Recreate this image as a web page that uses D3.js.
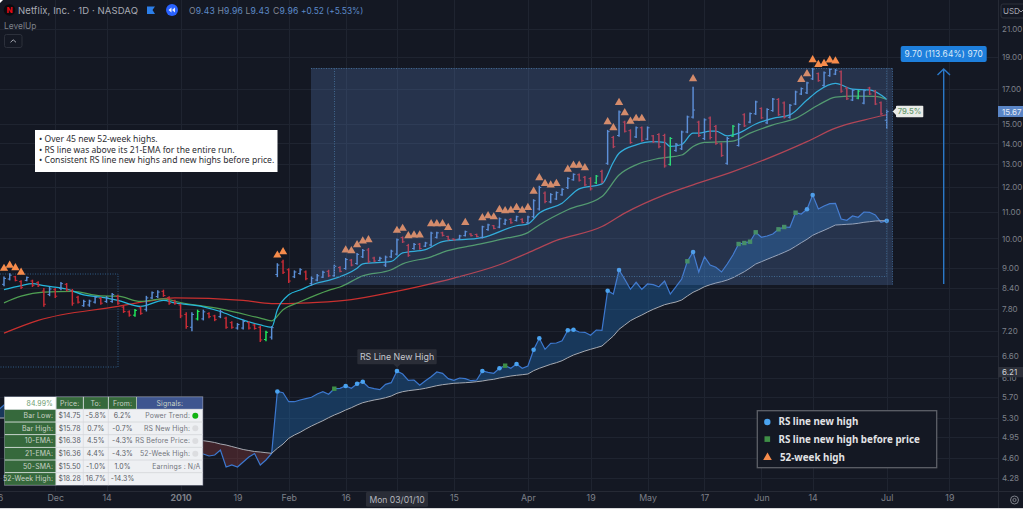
<!DOCTYPE html>
<html>
<head>
<meta charset="utf-8">
<script src="https://cdn.jsdelivr.net/npm/d3@7/dist/d3.min.js"></script>
<style>
html,body{margin:0;padding:0;background:#141823;overflow:hidden}
svg{display:block}
text{font-family:Inter,"Noto Sans",sans-serif}
</style>
</head>
<body>
<svg id="chart" width="1023" height="509"></svg>
<script>
// Daily OHLC for NFLX, one entry per session, day 0 = mid November 2009
const barHigh = [8.74,8.84,8.76,8.62,8.74,8.64,8.59,8.39,8.42,8.39,8.57,8.54,8.36,8.16,8.05,8.05,8.16,8.13,8.15,8.24,8.19,7.88,7.75,7.79,7.86,8.16,8.29,8.32,8.34,8.15,8.05,7.94,7.70,7.70,7.77,7.77,7.70,7.63,7.77,7.58,7.46,7.41,7.50,7.46,7.39,7.34,7.21,7.33,
  9.16,9.27,9.00,8.93,9.00,8.93,8.74,8.82,8.92,8.95,9.11,9.06,9.33,9.30,9.50,9.63,9.67,9.37,9.37,9.41,9.61,10.00,10.07,9.81,9.84,9.84,9.88,10.24,10.24,10.24,10.10,10.00,10.13,10.28,10.19,10.17,10.46,10.53,10.49,10.77,10.72,10.74,10.84,10.74,10.84,11.49,12.05,11.81,11.74,11.81,11.95,12.42,12.59,12.59,12.48,12.42,12.52,12.75,
  14.69,14.38,15.73,15.17,14.72,14.87,14.87,14.87,14.43,14.52,14.49,14.32,14.02,14.65,15.45,17.11,15.17,15.30,15.40,14.95,14.04,14.32,14.95,15.04,15.58,15.62,16.29,15.91,15.86,16.44,16.44,16.24,16.10,16.88,17.07,17.42,18.30,18.00,18.06,18.28,18.22,18.13,17.11,16.97,16.92,16.95,17.11,16.92,16.24,15.78];
const barLow = [8.44,8.62,8.59,8.36,8.59,8.42,8.42,7.85,8.15,8.10,8.32,8.29,7.88,7.94,7.85,7.85,7.94,7.91,7.96,7.96,7.91,7.68,7.58,7.58,7.63,7.72,8.07,8.10,8.13,7.91,7.91,7.54,7.26,7.20,7.48,7.48,7.54,7.46,7.54,7.26,7.26,7.24,7.24,7.24,7.24,6.93,6.95,6.99,
  8.72,8.82,8.54,8.69,8.79,8.62,8.46,8.59,8.69,8.72,8.72,8.87,8.95,9.06,9.11,9.33,9.16,9.19,9.22,9.04,9.33,9.41,9.84,9.37,9.61,9.61,9.70,9.72,10.00,10.07,9.93,9.93,9.95,10.07,10.07,10.04,10.00,10.28,10.33,10.37,10.49,10.53,10.62,10.55,10.53,10.74,11.04,11.33,11.33,11.46,11.63,11.91,12.27,12.23,12.03,11.85,12.13,12.16,
  12.98,13.77,14.34,14.55,13.98,14.27,14.09,14.17,14.02,13.77,12.85,12.94,13.60,13.68,14.52,15.30,14.32,14.17,14.20,13.93,13.35,12.98,14.32,13.85,14.84,15.04,15.49,15.27,15.00,15.67,15.44,15.30,15.30,16.04,16.62,16.68,17.53,17.42,17.11,17.73,17.84,16.76,16.33,16.27,16.37,16.08,16.62,16.04,15.49,14.75];
const barOpen = [8.50,8.66,8.73,8.58,8.62,8.60,8.55,8.30,8.20,8.34,8.38,8.50,8.30,8.12,7.88,7.90,7.98,8.09,8.00,8.00,8.14,7.84,7.71,7.62,7.82,7.78,8.10,8.14,8.29,8.11,8.02,7.90,7.64,7.30,7.52,7.52,7.66,7.60,7.58,7.54,7.42,7.28,7.28,7.42,7.36,7.30,6.99,7.05,
  8.80,9.20,8.95,8.73,8.83,8.88,8.52,8.63,8.72,8.90,8.76,9.02,8.99,9.26,9.15,9.37,9.60,9.33,9.25,9.10,9.37,9.46,10.03,9.75,9.65,9.80,9.73,9.77,10.04,10.20,10.07,9.98,9.98,10.10,10.16,10.14,10.04,10.32,10.46,10.41,10.53,10.70,10.66,10.70,10.57,10.80,11.10,11.74,11.38,11.50,11.67,11.97,12.31,12.53,12.42,12.36,12.18,12.68,
  13.05,14.30,14.40,15.10,14.65,14.33,14.80,14.22,14.38,14.45,14.40,13.00,13.66,13.74,14.58,15.37,15.10,14.25,15.32,14.87,13.98,13.05,14.37,13.90,15.50,15.10,15.55,15.85,15.06,15.73,16.36,16.16,15.36,16.10,16.68,16.75,17.60,17.93,17.20,17.80,17.90,18.05,17.03,16.33,16.44,16.15,17.04,16.85,16.17,15.20];
const barClose = [8.68,8.78,8.62,8.41,8.71,8.47,8.46,7.92,8.36,8.15,8.52,8.33,7.95,7.98,8.00,8.01,8.12,7.95,8.10,8.20,7.95,7.72,7.62,7.75,7.67,8.10,8.25,8.27,8.17,7.95,7.94,7.60,7.32,7.64,7.72,7.71,7.58,7.50,7.72,7.30,7.30,7.37,7.45,7.28,7.27,6.98,7.17,7.29,
  9.10,8.87,8.60,8.88,8.95,8.67,8.68,8.76,8.87,8.76,9.06,8.90,9.28,9.10,9.45,9.58,9.22,9.23,9.32,9.36,9.56,9.95,9.88,9.42,9.79,9.65,9.84,10.19,10.20,10.11,9.96,9.95,10.09,10.24,10.10,10.07,10.42,10.49,10.36,10.72,10.67,10.57,10.80,10.58,10.79,11.43,11.98,11.40,11.68,11.76,11.90,12.37,12.55,12.29,12.09,11.92,12.47,12.22,
  14.60,13.84,15.65,14.62,14.05,14.80,14.15,14.80,14.08,13.84,12.93,14.25,13.96,14.58,15.38,15.76,14.40,15.22,14.30,14.00,13.42,14.25,14.88,14.97,14.90,15.56,16.22,15.33,15.79,16.38,15.50,15.37,16.03,16.80,17.00,17.35,18.23,17.49,17.98,18.20,18.15,16.85,16.40,16.90,16.85,16.88,16.68,16.10,15.55,15.67];
const greenDays = [23,34,46,104,117,128,150];
const lastDay = 155;

// Moving averages, read at selected sessions
const ema10Days = [0,3,5,7,11,14,17,20,24,28,30,35,38,41,45,47,48,50,52,55,57,62,63,68,70,74,77,84,90,92,94,98,101,105,107,108,111,114,116,117,119,121,122,124,125,127,129,132,135,138,141,143,146,149,152,155];
const ema10 = [8.34,8.46,8.52,8.46,8.36,8.19,8.12,8.03,7.86,8.03,7.96,7.85,7.72,7.54,7.36,7.30,7.77,8.19,8.33,8.54,8.62,9.00,9.14,9.22,9.50,9.61,9.89,10.03,10.46,10.53,10.94,11.33,11.92,12.13,13.10,13.52,13.93,14.09,14.05,13.85,13.95,14.52,14.52,14.63,14.63,14.38,14.52,15.00,15.30,15.49,16.33,16.88,17.32,16.97,16.92,16.38];
const ema21Days = [0,3,7,12,17,20,24,28,31,38,45,47,49,52,57,59,63,68,70,75,77,83,88,92,94,99,105,108,111,115,119,121,123,128,131,135,139,143,146,149,153,155];
const ema21 = [7.96,8.15,8.27,8.29,8.16,8.15,8.00,8.07,7.97,7.79,7.54,7.47,7.77,7.99,8.32,8.42,8.76,8.95,9.14,9.37,9.52,9.78,10.00,10.21,10.49,11.07,11.60,12.52,12.98,13.28,13.44,13.85,14.05,14.12,14.52,14.95,15.30,16.04,16.50,16.56,16.54,16.36];
const sma50Days = [0,6,20,25,30,42,47,50,55,61,68,73,79,87,92,97,105,109,116,121,128,137,141,146,151,155];
const sma50 = [7.15,7.48,7.86,8.00,8.10,8.03,7.94,7.94,7.97,8.05,8.26,8.44,8.69,9.11,9.50,9.93,10.43,10.94,11.67,12.09,12.67,13.60,14.09,14.78,15.21,15.50];

// Relative-strength line and its 21-EMA, one value per session from day -1
const rsFirstDay = -1;
const rsLine = [9.0,9.5,9.8,9.6,9.7,9.4,9.2,9.0,8.6,8.8,8.5,8.3,8.0,7.6,7.4,7.6,7.5,7.3,7.0,6.8,6.4,6.0,5.8,5.5,5.4,5.6,5.9,6.0,5.8,5.5,5.2,5.0,4.8,4.6,4.4,4.7,
  4.6,4.4,4.5,5.0,3.3,3.5,3.3,3.8,4.3,4.65,3.5,4.0,4.65,10.85,10.73,9.83,9.83,10.0,10.13,10.27,10.6,10.83,10.57,11.13,11.17,11.4,11.17,11.63,11.83,11.27,11.13,11.03,11.57,11.73,12.9,12.6,11.97,12.0,11.47,11.93,12.33,12.8,12.67,12.13,11.97,12.2,12.13,11.93,12.0,12.9,12.77,12.67,13.17,13.43,13.17,13.6,13.17,13.4,15.03,16.17,15.07,15.67,15.7,15.93,16.97,17.03,16.8,16.77,16.47,17.0,16.97,
  20.93,20.6,23.0,22.07,21.07,21.77,21.07,21.6,21.53,21.33,21.9,20.6,21.33,22.1,23.87,24.8,22.8,24.33,23.5,23.27,22.8,23.6,24.5,25.6,25.7,25.83,26.77,26.27,26.4,26.6,27.07,27.3,27.27,28.73,28.6,29.07,30.5,29.1,29.4,29.63,29.67,28.1,27.97,28.4,28.27,28.8,28.77,28.5,27.77,27.93];
const rsEma = [8.2,8.2,8.2,8.2,8.2,8.15,8.1,8.05,8.0,7.95,7.9,7.8,7.75,7.65,7.6,7.5,7.4,7.3,7.2,7.1,7.0,6.9,6.8,6.7,6.65,6.6,6.5,6.45,6.35,6.3,6.2,6.15,6.1,6.05,6.0,5.95,
  5.93,5.85,5.75,5.6,5.5,5.35,5.2,5.05,4.95,4.85,4.8,4.73,4.67,5.17,5.6,6.17,6.5,6.77,7.1,7.4,7.67,7.93,8.23,8.5,8.73,9.0,9.23,9.5,9.73,9.87,10.0,10.1,10.23,10.4,10.67,10.83,10.93,11.0,11.07,11.17,11.3,11.43,11.53,11.6,11.67,11.7,11.73,11.77,11.83,11.9,12.0,12.07,12.2,12.3,12.4,12.47,12.53,12.6,12.93,13.17,13.37,13.57,13.73,13.93,14.23,14.5,14.7,14.9,15.07,15.23,15.4,
  15.9,16.4,17.07,17.5,17.93,18.23,18.5,18.8,19.07,19.3,19.53,19.67,19.8,20.0,20.4,20.77,21.03,21.33,21.53,21.7,21.83,22.0,22.23,22.53,22.83,23.2,23.6,23.83,24.07,24.3,24.53,24.77,25.03,25.37,25.73,26.07,26.47,26.73,26.97,27.23,27.5,27.53,27.57,27.6,27.67,27.77,27.83,27.9,27.93,27.93];

// Signal days
const rsHighDays = [48,60,62,63,69,84,87,90,93,94,99,100,106,108,121,141,142,155];
const rsBeforePriceDays = [58,88,120,129,130,131,132,136,137,139];
const weekHighDays = [0,1,2,3,48,49,60,61,62,63,64,69,70,71,72,73,75,76,77,78,81,84,85,86,87,88,89,90,91,92,93,94,95,96,97,99,100,101,102,106,107,108,109,110,111,112,121,140,141,142,143,144,145,146];

// Axis ticks
const priceTicks = [21,19,17,15,14,13,12,11,10,9,8.4,7.8,7.2,6.6,6.1,5.7,5.3,4.95,4.6,4.28];
const dayTicks = [-1,9,18,31,41,50,60,79,92,103,113,123,133,142,155,166];
const dayLabels = ["16","Dec","14","2010","19","Feb","16","15","Apr","19","May","17","Jun","14","Jul","19"];
const crosshairDay = 69;

// Study panel rows
const tableHead = ["84.99%","Price:","To:","From:","Signals:"];
const tableNames = ["Bar Low:","Bar High:","10-EMA:","21-EMA:","50-SMA:","52-Week High:"];
const tablePrices = ["$14.75","$15.78","$16.38","$16.36","$15.50","$18.28"];
const tableTo = ["-5.8%","0.7%","4.5%","4.4%","-1.0%","16.7%"];
const tableFrom = ["6.2%","-0.7%","-4.3%","-4.3%","1.0%","-14.3%"];
const tableSignals = ["Power Trend:","RS New High:","RS Before Price:","52-Week High:","Earnings : N/A",""];
const noteLines = ["Over 45 new 52-week highs.","RS line was above its 21-EMA for the entire run.","Consistent RS line new highs and new highs before price."];
const legendLabels = ["RS line new high","RS line new high before price","52-week high"];

const W = 1023, H = 509, axisX = 998, axisY = 491.5;
const svg = d3.select("#chart");
const x = d3.scaleLinear().domain([0, lastDay]).range([4, 886.7]);
const y = d3.scaleLog().domain([21, 4.28]).range([29, 478]);
const rsY = d3.scaleLinear().domain([0, 30]).range([500, 200]);

const colors = {bg:"#141823", grid:"#1f2430", up:"#5b90d8", down:"#cc2c36", flag:"#1fee5c",
  ema10:"#25b7dc", ema21:"#4f9e52", sma50:"#c9302f", rs:"#3c78cf", dot:"#4aa3f0", box:"#3f8f47", tri:"#f68b4b"};

svg.append("rect").attr("width", W).attr("height", H).attr("fill", colors.bg);

// Grid
const grid = svg.append("g").attr("stroke", colors.grid).attr("stroke-width", 1);
grid.selectAll("line.h").data(priceTicks).join("line").attr("class","h")
  .attr("x1",0).attr("x2",axisX).attr("y1",d=>Math.round(y(d))+.5).attr("y2",d=>Math.round(y(d))+.5);
grid.selectAll("line.v").data(dayTicks.concat([crosshairDay])).join("line").attr("class","v")
  .attr("x1",d=>Math.round(x(d))+.5).attr("x2",d=>Math.round(x(d))+.5).attr("y1",0).attr("y2",axisY);

// Earlier base outlined with a dotted box
svg.append("path").attr("d",`M0,274H118V367H0`).attr("fill","none").attr("stroke","#2f5b86").attr("stroke-width",1).attr("stroke-dasharray","1 1.5");

// Moving averages
const maLine = d3.line().x(d=>x(d[0])).y(d=>y(d[1])).curve(d3.curveMonotoneX);
[[sma50Days,sma50,colors.sma50],[ema21Days,ema21,colors.ema21],[ema10Days,ema10,colors.ema10]].forEach(([days,vals,c])=>{
  svg.append("path").attr("d",maLine(d3.zip(days,vals))).attr("fill","none").attr("stroke",c).attr("stroke-width",1.25);
});

// OHLC bars
const sessions = d3.range(barHigh.length).map(i=>({i,h:barHigh[i],l:barLow[i],o:barOpen[i],c:barClose[i]}));
const barColor = d => greenDays.includes(d.i) ? colors.flag : (d.c>=d.o ? colors.up : colors.down);
const bars = svg.append("g").selectAll("g").data(sessions).join("g").attr("stroke",barColor).attr("stroke-width",1.45);
bars.append("line").attr("x1",d=>x(d.i)).attr("x2",d=>x(d.i)).attr("y1",d=>y(d.h)).attr("y2",d=>y(d.l));
bars.append("line").attr("x1",d=>x(d.i)-2).attr("x2",d=>x(d.i)).attr("y1",d=>y(d.o)).attr("y2",d=>y(d.o)).attr("stroke-width",1);
bars.append("line").attr("x1",d=>x(d.i)).attr("x2",d=>x(d.i)+2).attr("y1",d=>y(d.c)).attr("y2",d=>y(d.c)).attr("stroke-width",1);

// 52-week high markers sit just above their bar
const tri = d3.symbol().type(d3.symbolTriangle).size(30);
svg.append("g").selectAll("path").data(weekHighDays).join("path").attr("d",tri)
  .attr("fill",colors.tri).attr("transform",d=>`translate(${x(d)},${y(barHigh[d])-8})`);

// RS line with its EMA and the band between them
const rsData = rsLine.map((v,k)=>({d:k+rsFirstDay,v,e:rsEma[k]}));
const band = d3.area().x(d=>x(d.d)).y0(d=>rsY(d.e));
svg.append("path").attr("d",band.y1(d=>rsY(Math.max(d.v,d.e)))(rsData)).attr("fill","#2272c0").attr("fill-opacity",.36);
svg.append("path").attr("d",band.y1(d=>rsY(Math.min(d.v,d.e)))(rsData)).attr("fill","#8a3a3a").attr("fill-opacity",.38);
const rsPath = d3.line().x(d=>x(d.d));
svg.append("path").attr("d",rsPath.y(d=>rsY(d.v))(rsData)).attr("fill","none").attr("stroke",colors.rs).attr("stroke-width",1.2);
svg.append("path").attr("d",rsPath.y(d=>rsY(d.e))(rsData)).attr("fill","none").attr("stroke","#a6aab2").attr("stroke-width",1);
const rsAt = d => rsLine[d-rsFirstDay];
svg.append("g").selectAll("circle").data(rsHighDays).join("circle").attr("r",2.3).attr("fill",colors.dot)
  .attr("cx",d=>x(d)).attr("cy",d=>rsY(rsAt(d)));
svg.append("g").selectAll("rect").data(rsBeforePriceDays).join("rect").attr("width",4.4).attr("height",4.4).attr("fill",colors.box)
  .attr("x",d=>x(d)-2.2).attr("y",d=>rsY(rsAt(d))-2.2);

// Highlighted run: translucent panel over the marks, with its dotted inner frame
svg.append("rect").attr("x",311).attr("y",68).attr("width",581.7).attr("height",217).attr("fill","rgb(100,144,216)").attr("fill-opacity",.23);
svg.append("path").attr("d","M311,68.5H892.7").attr("stroke","#40688f").attr("stroke-dasharray","1 1.5").attr("fill","none");
svg.append("path").attr("d","M334.5,68.5V276.5H886.7V68.5").attr("stroke","#40688f").attr("stroke-dasharray","1 1.5").attr("fill","none");
svg.append("path").attr("d","M892.5,68.5V285").attr("stroke","#3a5f88").attr("stroke-dasharray","1 1.5").attr("fill","none");

// Measured move arrow
svg.append("path").attr("d","M943.7,284V69M937.5,75L943.7,69L950,75").attr("fill","none").attr("stroke","#2a78c8").attr("stroke-width",1.4);
svg.append("rect").attr("x",900.7).attr("y",46).attr("width",86).attr("height",16).attr("rx",2).attr("fill","#1e7fdc");
svg.append("text").attr("x",943.7).attr("y",57.3).attr("text-anchor","middle").attr("font-size",8.3).attr("fill","#dbe9f8").attr("letter-spacing",.2).text("9.70 (113.64%) 970");

// Axis panels
const priceAxis = svg.append("g").attr("transform",`translate(${axisX},0)`)
  .call(d3.axisRight(y).tickValues(priceTicks).tickSize(0).tickPadding(4).tickFormat(d3.format(".2f")));
priceAxis.select(".domain").remove();
priceAxis.selectAll("text").attr("fill","#7d8089").attr("font-size",8).style("font-family","Inter");
const labelOf = d3.scaleOrdinal(dayTicks, dayLabels);
const timeAxis = svg.append("g").attr("transform",`translate(0,${axisY})`)
  .call(d3.axisBottom(x).tickValues(dayTicks).tickSize(0).tickPadding(3.5).tickFormat(labelOf));
timeAxis.select(".domain").remove();
timeAxis.selectAll("text").attr("fill","#7d8089").attr("font-size",8.8).style("font-family","Inter")
  .attr("font-weight",d=>labelOf(d)==="2010"?700:400);
svg.append("line").attr("x1",axisX+.5).attr("x2",axisX+.5).attr("y1",0).attr("y2",H).attr("stroke","#262a35");
svg.append("line").attr("x1",0).attr("x2",W).attr("y1",axisY).attr("y2",axisY).attr("stroke","#262a35");

// Settings cog
svg.append("circle").attr("cx",1014.5).attr("cy",500).attr("r",4).attr("fill","none").attr("stroke","#7d8089");
svg.append("circle").attr("cx",1014.5).attr("cy",500).attr("r",1.6).attr("fill","none").attr("stroke","#7d8089");

// Currency button
svg.append("rect").attr("x",1001).attr("y",4).attr("width",30).attr("height",14).attr("rx",2).attr("fill","none").attr("stroke","#2c303b");
svg.append("text").attr("x",1003).attr("y",13.8).attr("font-size",8).attr("fill","#a4a7b0").text("USD");
svg.append("path").attr("d","M1019,10L1021,12L1023,10").attr("fill","none").attr("stroke","#a4a7b0").attr("stroke-width",.9);

// Last price and RS value tags
svg.append("rect").attr("x",998).attr("y",106).attr("width",25).attr("height",11).attr("fill","#5a85c6");
svg.append("text").attr("x",1002).attr("y",114.5).attr("font-size",8).attr("fill","#e4ebf6").text("15.67");
svg.append("rect").attr("x",998).attr("y",367).attr("width",25).attr("height",10.3).attr("fill","#2d303a");
svg.append("text").attr("x",1002).attr("y",375.3).attr("font-size",8).attr("fill","#cfd1d6").text("6.21");
svg.append("path").attr("d","M892.7,111.5L896,108V106.5Q896,105.7 897,105.7H922.5Q923.3,105.7 923.3,106.5V116.5Q923.3,117.3 922.5,117.3H897Q896,117.3 896,116.5V115Z").attr("fill","#e9ebe8");
svg.append("text").attr("x",909.5).attr("y",114.4).attr("text-anchor","middle").attr("font-size",7.6).attr("font-weight",600).attr("fill","#6e9d72").text("79.5%");

// Hovered date on the time axis
svg.append("rect").attr("x",366).attr("y",491.7).attr("width",62).attr("height",15).attr("rx",1.5).attr("fill","#2a2d37");
svg.append("text").attr("x",397).attr("y",503).attr("text-anchor","middle").attr("font-size",8.6).attr("fill","#b6b8bf").text("Mon 03/01/10");

// Tooltip on the RS high
svg.append("path").attr("d","M358.3,349.3H435.7Q436.7,349.3 436.7,350.3V363.3Q436.7,364.3 435.7,364.3H400.5L397,367.5L393.5,364.3H358.3Q357.3,364.3 357.3,363.3V350.3Q357.3,349.3 358.3,349.3Z").attr("fill","#2a2d37");
svg.append("text").attr("x",397).attr("y",360).attr("text-anchor","middle").attr("font-size",8.8).attr("fill","#c6c8ce").text("RS Line New High");

// Header row
const head = svg.append("g");
head.append("circle").attr("cx",9.5).attr("cy",10).attr("r",5.8).attr("fill","#0b0b0f");
head.append("text").attr("x",9.5).attr("y",12.8).attr("text-anchor","middle").attr("font-size",8).attr("font-weight",800).attr("fill","#e50914").text("N");
head.append("text").attr("x",18).attr("y",14).attr("font-size",9.5).attr("fill","#a8abb4").attr("letter-spacing",.1).text("Netflix, Inc. · 1D · NASDAQ");
head.append("path").attr("d","M147,6.5H155L152.5,10L155,14H147Z").attr("fill","#2c7fea");
head.append("circle").attr("cx",172).attr("cy",10).attr("r",6).attr("fill","#2962ff");
head.append("path").attr("d","M171.5,7.5V12.5L168.5,10ZM175,7.5V12.5L172,10Z").attr("fill","#e8eefc");
const quote = [["O","9.43",189],["H","9.96",217.5],["L","9.43",245.5],["C","9.96",273]];
quote.forEach(([k,v,px])=>{
  head.append("text").attr("x",px).attr("y",13.5).attr("font-size",8.6).attr("letter-spacing",.2).attr("fill","#858891").text(k)
    .append("tspan").attr("fill","#5c8ac9").text(v);
});
head.append("text").attr("x",301).attr("y",13.5).attr("font-size",8.3).attr("fill","#5c8ac9").text("+0.52 (+5.53%)");
head.append("text").attr("x",4).attr("y",28.5).attr("font-size",8.4).attr("fill","#7d8089").text("LevelUp");
head.append("rect").attr("x",4.5).attr("y",34.5).attr("width",17.5).attr("height",13).attr("rx",2).attr("fill","none").attr("stroke","#2c303b");
head.append("path").attr("d","M10.5,42.3L13.2,39.8L16,42.3").attr("fill","none").attr("stroke","#a4a7b0").attr("stroke-width",1);

// Note
const note = svg.append("g");
note.append("rect").attr("x",35).attr("y",130).attr("width",242.5).attr("height",42).attr("fill","#fff");
note.selectAll("text").data(noteLines).join("text").attr("x",39).attr("y",(d,i)=>142.3+i*10.4)
  .attr("font-size",8.6).attr("fill","#2b2b30").style("font-family","'Noto Sans'").text(d=>"• "+d);

// Legend
const legend = svg.append("g");
legend.append("rect").attr("x",757.3).attr("y",410.7).attr("width",179.4).attr("height",57).attr("fill","#141823").attr("stroke","#5d6068").attr("stroke-width",1.3);
legend.append("circle").attr("cx",767.3).attr("cy",422).attr("r",3.2).attr("fill",colors.dot);
legend.append("rect").attr("x",764.5).attr("y",436.3).attr("width",5.6).attr("height",5.6).attr("fill",colors.box);
legend.append("path").attr("d",d3.symbol().type(d3.symbolTriangle).size(32)).attr("transform","translate(767.5,457.5)").attr("fill",colors.tri);
legend.selectAll("text").data(legendLabels).join("text").attr("x",(d,i)=>i===2?780:778.5).attr("y",(d,i)=>425.3+i*17.6)
  .attr("font-size",9.8).attr("font-weight",700).attr("fill","#e2e3e6").style("font-family","'Noto Sans'").text(d=>d);

// Study table
const colEdges = [4.3,56,83.3,108.3,136.7,203];
const rowEdges = d3.range(8).map(k=>396.7+k*12.66);
const table = svg.append("g").style("font-size","6.9px");
table.append("rect").attr("x",colEdges[0]).attr("y",rowEdges[0]).attr("width",colEdges[5]-colEdges[0]).attr("height",rowEdges[7]-rowEdges[0]).attr("fill","#eef0f3").attr("stroke","#5a6072").attr("stroke-width",.6);
const cell = (c0,c1,r,fill)=>table.append("rect").attr("x",colEdges[c0]+.3).attr("width",colEdges[c1]-colEdges[c0]-.6).attr("y",rowEdges[r]+.4).attr("height",rowEdges[r+1]-rowEdges[r]-.8).attr("fill",fill);
const label = (tx,r,t,fill,anchor)=>table.append("text").attr("x",tx).attr("y",rowEdges[r]+8.8).attr("text-anchor",anchor).attr("letter-spacing",.12).attr("fill",fill).text(t);
cell(0,1,0,"#ffffff");
[1,2,3].forEach(c=>cell(c,c+1,0,"#36693c"));
cell(4,5,0,"#3e558f");
label(53,0,tableHead[0],"#6c9b70","end");
[1,2,3,4].forEach(c=>label((colEdges[c]+colEdges[c+1])/2,0,tableHead[c],"#c9d2c6","middle"));
tableNames.forEach((t,k)=>{
  const r=k+1;
  cell(0,1,r,"#36693c");
  label(53,r,t,"#c9d2c6","end");
  label((colEdges[1]+colEdges[2])/2,r,tablePrices[k],"#55585f","middle");
  label((colEdges[2]+colEdges[3])/2,r,tableTo[k],"#55585f","middle");
  label((colEdges[3]+colEdges[4])/2,r,tableFrom[k],"#55585f","middle");
  label(k===4?200.5:190,r,tableSignals[k],"#72757c","end");
  if(k<4) table.append("circle").attr("cx",195.3).attr("cy",rowEdges[r]+6.3).attr("r",3).attr("fill",k===0?"#12b312":"#dcdde0");
});
table.selectAll(".gridline").data(colEdges.slice(1,4)).join("line").attr("stroke","#d3d5d9").attr("stroke-width",.6)
  .attr("x1",d=>d).attr("x2",d=>d).attr("y1",rowEdges[0]).attr("y2",rowEdges[7]);
table.selectAll(".rowline").data(rowEdges.slice(1,7)).join("line").attr("stroke","#d3d5d9").attr("stroke-width",.8)
  .attr("x1",colEdges[1]).attr("x2",colEdges[5]).attr("y1",d=>d).attr("y2",d=>d);

// Thin light edge along the bottom of the window
svg.append("rect").attr("x",0).attr("y",508).attr("width",W).attr("height",1).attr("fill","#d8d9dc");
svg.append("path").attr("d","M0,0H3L0,3Z").attr("fill","#ffffff");
</script>
</body>
</html>
